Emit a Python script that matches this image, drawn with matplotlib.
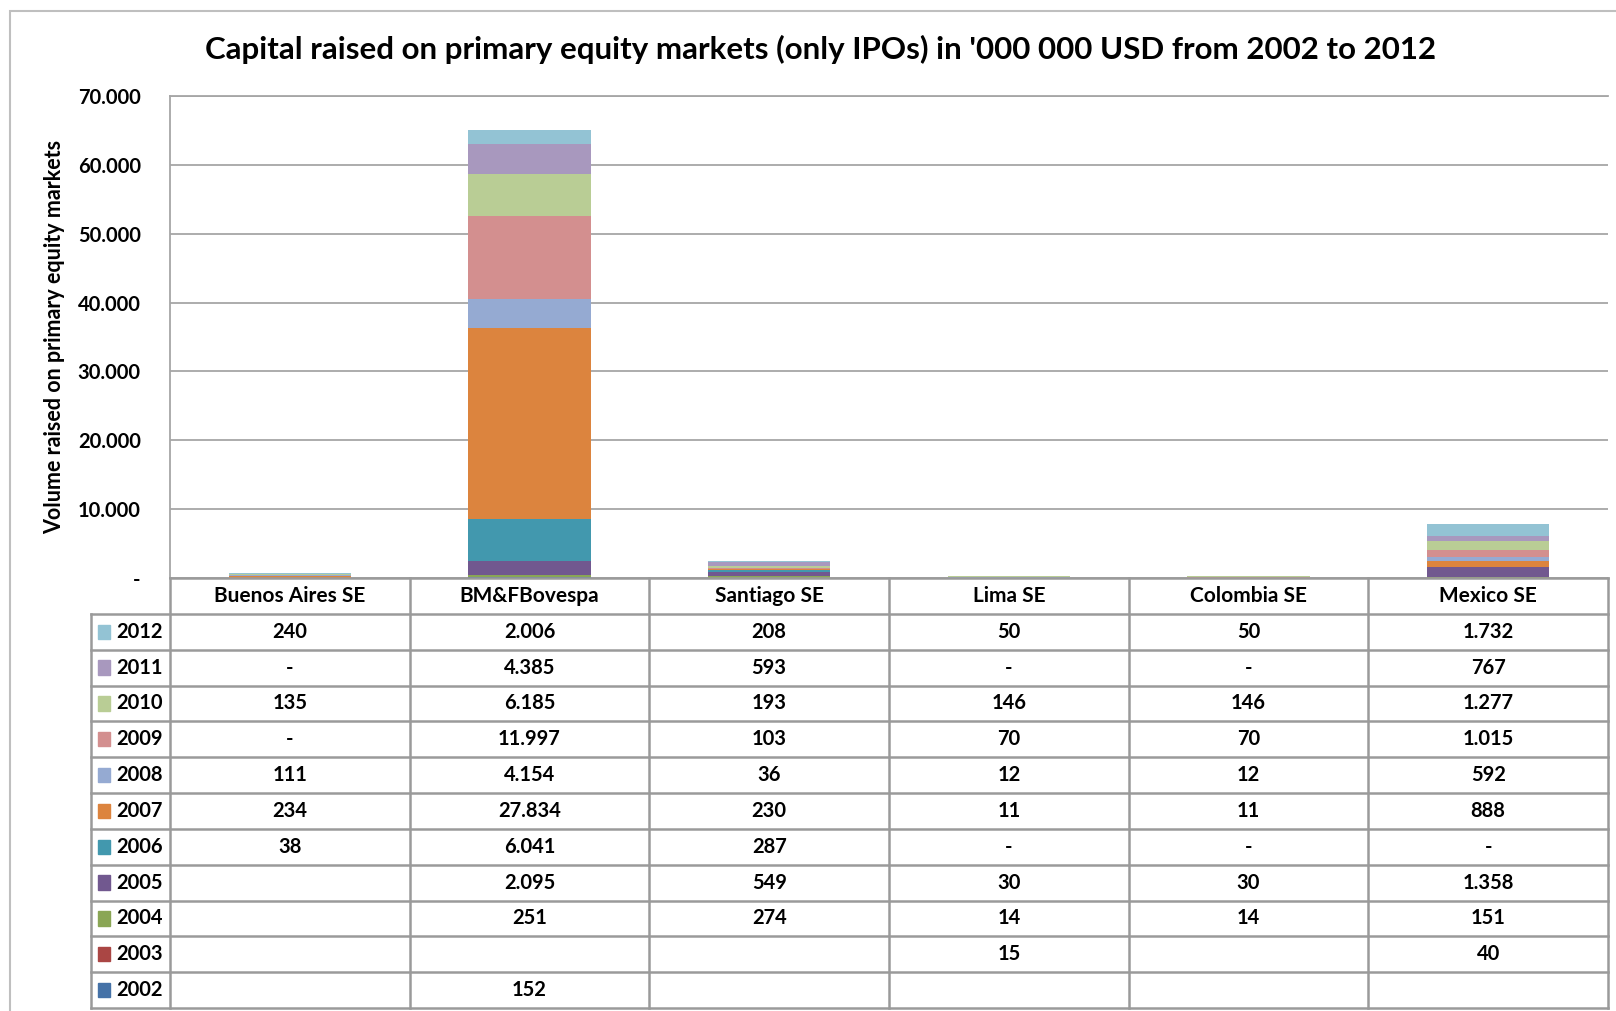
import numpy as np
import matplotlib.pyplot as plt
from matplotlib.patches import Rectangle

plt.rcParams['font.family'] = ['Lato', 'DejaVu Sans']

exchanges = ["Buenos Aires SE", "BM&FBovespa", "Santiago SE", "Lima SE", "Colombia SE", "Mexico SE"]
years = [2002, 2003, 2004, 2005, 2006, 2007, 2008, 2009, 2010, 2011, 2012]

nan = np.nan
# values per year, one entry per exchange (nan = no entry in the table)
v2002 = [nan, 152, nan, nan, nan, nan]
v2003 = [nan, nan, nan, 15, nan, 40]
v2004 = [nan, 251, 274, 14, 14, 151]
v2005 = [nan, 2095, 549, 30, 30, 1358]
v2006 = [38, 6041, 287, 0, 0, 0]
v2007 = [234, 27834, 230, 11, 11, 888]
v2008 = [111, 4154, 36, 12, 12, 592]
v2009 = [0, 11997, 103, 70, 70, 1015]
v2010 = [135, 6185, 193, 146, 146, 1277]
v2011 = [0, 4385, 593, 0, 0, 767]
v2012 = [240, 2006, 208, 50, 50, 1732]
values = [v2002, v2003, v2004, v2005, v2006, v2007, v2008, v2009, v2010, v2011, v2012]

colors = ["#4572A7", "#AA4644", "#8AA655", "#71588F", "#4298AE", "#DC843E",
          "#95AAD2", "#D38F8F", "#B9CD95", "#A898BE", "#93C3D4"]

yticks = [0, 10000, 20000, 30000, 40000, 50000, 60000, 70000]


def fmt(v):
    if np.isnan(v):
        return ""
    if v == 0:
        return "-"
    return f"{v:,.0f}".replace(",", ".")


W, H = 1616, 1011
fig = plt.figure(figsize=(W / 100, H / 100), dpi=100)

grid_c = "#A6A6A6"
tab_c = "#9A9A9A"
fs = 14.5

# outer chart frame
fig.patches.append(Rectangle((10 / W, -0.1), 1.2, 1 - 11 / H + 0.1, transform=fig.transFigure,
                             fill=False, edgecolor="#BFBFBF", linewidth=1.5))

# plot area
left, right, top, bottom = 170, 1608, 96, 578
ax = fig.add_axes([left / W, 1 - bottom / H, (right - left) / W, (bottom - top) / H])
x = np.arange(len(exchanges))
base = np.zeros(len(exchanges))
for yr, vals, c in zip(years, values, colors):
    v = np.nan_to_num(np.array(vals, dtype=float))
    ax.bar(x, v, 0.51, bottom=base, color=c, edgecolor="none", zorder=3)
    base += v

ax.set_xlim(-0.5, 5.5)
ax.set_ylim(0, 70000)
ax.set_yticks(yticks)
ax.set_yticklabels(["-"] + [fmt(t) for t in yticks[1:]], fontsize=fs, fontweight="bold")
ax.tick_params(axis="y", length=0, pad=21)
ax.set_xticks([])
ax.grid(axis="y", color=grid_c, linewidth=1.3, zorder=0)
for s in ["right", "bottom"]:
    ax.spines[s].set_visible(False)
ax.spines["top"].set_color(grid_c)
ax.spines["top"].set_linewidth(1.3)
ax.spines["left"].set_color(grid_c)
ax.spines["left"].set_linewidth(1.3)
ax.set_ylabel("Volume raised on primary equity markets", fontsize=15.5, fontweight="bold", labelpad=9)

fig.text(821 / W, 1 - 49 / H, "Capital raised on primary equity markets (only IPOs) in '000 000 USD from 2002 to 2012",
         ha="center", va="center", fontsize=22.5, fontweight="bold")

# data table
t_left, t_bottom = 91, 1008
lab_w = (left - t_left) / ((right - left) / 6)
tax = fig.add_axes([t_left / W, 1 - t_bottom / H, (right - t_left) / W, (t_bottom - bottom) / H])
nrows = len(years) + 1
tax.set_xlim(-0.5 - lab_w, 5.5)
tax.set_ylim(nrows, 0)
tax.axis("off")

lw = 1.8
# horizontal lines
tax.plot([-0.5, 5.5], [0, 0], color=tab_c, lw=lw, clip_on=False)
for r in range(1, nrows + 1):
    tax.plot([-0.5 - lab_w, 5.5], [r, r], color=tab_c, lw=lw, clip_on=False)
# vertical lines
tax.plot([-0.5 - lab_w, -0.5 - lab_w], [1, nrows], color=tab_c, lw=lw, clip_on=False)
for i in range(len(exchanges) + 1):
    tax.plot([i - 0.5, i - 0.5], [0, nrows], color=tab_c, lw=lw, clip_on=False)

for i, name in enumerate(exchanges):
    tax.text(i, 0.5, name, ha="center", va="center", fontsize=fs + 0.5, fontweight="bold")

for r, (yr, vals, c) in enumerate(zip(years[::-1], values[::-1], colors[::-1])):
    yc = r + 1.5
    tax.add_patch(Rectangle((-0.5 - lab_w + 0.03, yc - 0.2), 0.05, 0.4, color=c, clip_on=False))
    tax.text(-0.5 - lab_w + 0.105, yc, str(yr), ha="left", va="center", fontsize=fs, fontweight="bold")
    for i, v in enumerate(vals):
        tax.text(i, yc, fmt(v), ha="center", va="center", fontsize=fs, fontweight="bold")

fig.savefig("out.png", dpi=100)
